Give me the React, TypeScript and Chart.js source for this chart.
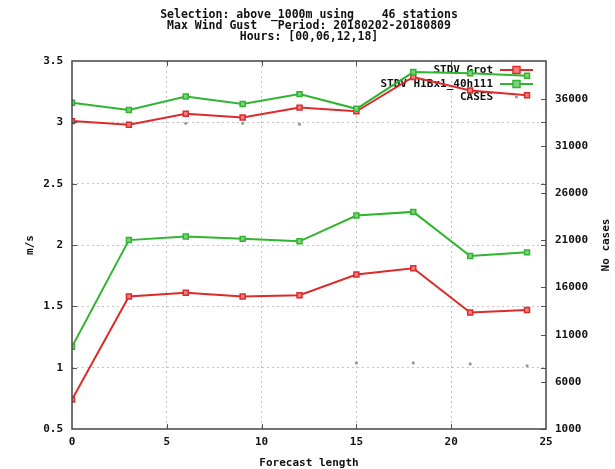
import React, { useEffect, useRef } from "react";
import { Chart, registerables } from "chart.js";

Chart.register(...registerables);

const forecastLength = [0, 3, 6, 9, 12, 15, 18, 21, 24];
const stdvGrot = [0.74, 1.58, 1.61, 1.58, 1.59, 1.76, 1.81, 1.45, 1.47];
const stdvHib = [1.17, 2.04, 2.07, 2.05, 2.03, 2.24, 2.27, 1.91, 1.94];
const upperGrot = [3.01, 2.98, 3.07, 3.04, 3.12, 3.09, 3.37, 3.26, 3.22];
const upperHib = [3.16, 3.1, 3.21, 3.15, 3.23, 3.11, 3.41, 3.4, 3.38];
const cases = [33500, 33400, 33400, 33400, 33300, 8000, 8000, 7900, 7700];
const y2Ticks = [1000, 6000, 11000, 16000, 21000, 26000, 31000, 36000];
const titleLines = [
  "Selection: above_1000m using    46 stations",
  "Max Wind Gust   Period: 20180202-20180809",
  "Hours: [00,06,12,18]",
];
const legendLabels = ["STDV Grot", "STDV HIBx1_40h111", "CASES"];

const RED = "#dd2a2a";
const GREEN = "#2fb52f";
const GREY = "#9a9a9a";
const FONT = "bold 11px 'DejaVu Sans Mono', monospace";
const TITLE_FONT = "bold 11.5px 'DejaVu Sans Mono', monospace";

const pts = (ys: number[]) => forecastLength.map((x, i) => ({ x, y: ys[i] }));

export default function App() {
  const ref = useRef<HTMLCanvasElement | null>(null);
  useEffect(() => {
    if (!ref.current) return;
    const lineDs = (data: number[], color: string, fill: string) => ({
      data: pts(data),
      yAxisID: "y",
      borderColor: color,
      backgroundColor: fill,
      borderWidth: 2,
      pointStyle: "rect" as const,
      pointRadius: 3.5,
      pointBorderWidth: 1.5,
      pointBorderColor: color,
      pointBackgroundColor: fill,
      tension: 0,
    });
    const decor = {
      id: "decor",
      beforeDatasetsDraw(chart: any) {
        const ctx = chart.ctx;
        ctx.save();
        ctx.font = FONT;
        ctx.textAlign = "right";
        ctx.textBaseline = "middle";
        const rows = [70, 84, 97];
        const cols = [RED, GREEN, GREY];
        legendLabels.forEach((t, i) => {
          ctx.fillStyle = "#111";
          ctx.fillText(t, 493, rows[i]);
          if (i < 2) {
            ctx.strokeStyle = cols[i];
            ctx.lineWidth = 2;
            ctx.beginPath();
            ctx.moveTo(500, rows[i]);
            ctx.lineTo(533, rows[i]);
            ctx.stroke();
            ctx.fillStyle = cols[i] === RED ? "#f08080" : "#80d080";
            ctx.fillRect(513, rows[i] - 3.5, 7, 7);
            ctx.lineWidth = 1.5;
            ctx.strokeRect(513, rows[i] - 3.5, 7, 7);
          } else {
            ctx.fillStyle = GREY;
            ctx.beginPath();
            ctx.arc(516.5, rows[i], 1.6, 0, Math.PI * 2);
            ctx.fill();
          }
        });
        ctx.restore();
      },
      afterDraw(chart: any) {
        const ctx = chart.ctx;
        const ca = chart.chartArea;
        const xs = chart.scales.x;
        const ys = chart.scales.y;
        const y2 = chart.scales.y2;
        ctx.save();
        ctx.strokeStyle = "#555";
        ctx.lineWidth = 1;
        ctx.beginPath();
        [5, 10, 15, 20].forEach((v) => {
          const px = Math.round(xs.getPixelForValue(v)) + 0.5;
          ctx.moveTo(px, ca.bottom);
          ctx.lineTo(px, ca.bottom - 5);
          ctx.moveTo(px, ca.top);
          ctx.lineTo(px, ca.top + 5);
        });
        [1, 1.5, 2, 2.5, 3].forEach((v) => {
          const py = Math.round(ys.getPixelForValue(v)) + 0.5;
          ctx.moveTo(ca.left, py);
          ctx.lineTo(ca.left + 5, py);
          ctx.moveTo(ca.right, py);
          ctx.lineTo(ca.right - 5, py);
        });
        y2Ticks.forEach((v) => {
          const py = Math.round(y2.getPixelForValue(v)) + 0.5;
          ctx.moveTo(ca.right, py);
          ctx.lineTo(ca.right - 5, py);
        });
        ctx.stroke();
        ctx.strokeStyle = "#444";
        ctx.lineWidth = 1.5;
        ctx.strokeRect(ca.left, ca.top, ca.right - ca.left, ca.bottom - ca.top);
        ctx.fillStyle = "#111";
        ctx.textAlign = "center";
        ctx.textBaseline = "middle";
        const cx = (ca.left + ca.right) / 2;
        ctx.font = TITLE_FONT;
        [15, 26, 37].forEach((yy, i) => ctx.fillText(titleLines[i], cx, yy));
        ctx.font = FONT;
        ctx.fillText("Forecast length", cx, 463);
        const cy = (ca.top + ca.bottom) / 2;
        ctx.translate(30, cy);
        ctx.rotate(-Math.PI / 2);
        ctx.fillText("m/s", 0, 0);
        ctx.restore();
        ctx.save();
        ctx.font = FONT;
        ctx.fillStyle = "#111";
        ctx.textAlign = "center";
        ctx.textBaseline = "middle";
        ctx.translate(606, cy);
        ctx.rotate(-Math.PI / 2);
        ctx.fillText("No cases", 0, 0);
        ctx.restore();
      },
    };
    const gridColor = (c: any) => {
      const v = c.tick ? c.tick.value : null;
      return v === 0 || v === 25 || v === 0.5 || v === 3.5 ? "rgba(0,0,0,0)" : "#c4c4c4";
    };
    const tickFont = { family: "'DejaVu Sans Mono', monospace", size: 11, weight: "bold" };
    const chart = new Chart(ref.current, {
      type: "line",
      data: {
        datasets: [
          lineDs(upperHib, GREEN, "#80d080"),
          lineDs(upperGrot, RED, "#f08080"),
          lineDs(stdvHib, GREEN, "#80d080"),
          lineDs(stdvGrot, RED, "#f08080"),
          {
            data: pts(cases),
            yAxisID: "y2",
            showLine: false,
            pointStyle: "circle",
            pointRadius: 1.6,
            pointBorderWidth: 0,
            pointBackgroundColor: GREY,
            backgroundColor: GREY,
            borderColor: GREY,
          } as any,
        ],
      },
      options: {
        animation: false,
        responsive: false,
        devicePixelRatio: 1,
        layout: { padding: { top: 61, left: 0, right: 0, bottom: 0 } },
        plugins: { legend: { display: false }, tooltip: { enabled: false }, title: { display: false } },
        scales: {
          x: {
            type: "linear",
            min: 0,
            max: 25,
            afterFit: (s: any) => {
              s.height = 40;
            },
            ticks: { stepSize: 5, font: tickFont, color: "#111", padding: 7, maxRotation: 0 },
            grid: { color: gridColor, drawTicks: false, tickLength: 0, lineWidth: 1 },
            border: { display: false, dash: [2, 3] },
          },
          y: {
            position: "left",
            min: 0.5,
            max: 3.5,
            afterFit: (s: any) => {
              s.width = 72;
            },
            ticks: {
              stepSize: 0.5,
              font: tickFont,
              color: "#111",
              padding: 9,
              callback: (v: any) => String(v),
            },
            grid: { color: gridColor, drawTicks: false, tickLength: 0, lineWidth: 1 },
            border: { display: false, dash: [2, 3] },
          },
          y2: {
            position: "right",
            min: 1000,
            max: 40000,
            afterFit: (s: any) => {
              s.width = 69;
            },
            afterBuildTicks: (s: any) => {
              s.ticks = y2Ticks.map((v) => ({ value: v }));
            },
            ticks: {
              font: tickFont,
              color: "#111",
              padding: 9,
              callback: (v: any) => String(v),
            },
            grid: { drawOnChartArea: false, drawTicks: false, tickLength: 0 },
            border: { display: false },
          },
        },
      },
      plugins: [decor],
    } as any);
    return () => chart.destroy();
  }, []);
  return (
    <canvas
      ref={ref}
      width={615}
      height={469}
      style={{ position: "fixed", left: 0, top: 0, width: 615, height: 469, background: "#fff" }}
    />
  );
}
